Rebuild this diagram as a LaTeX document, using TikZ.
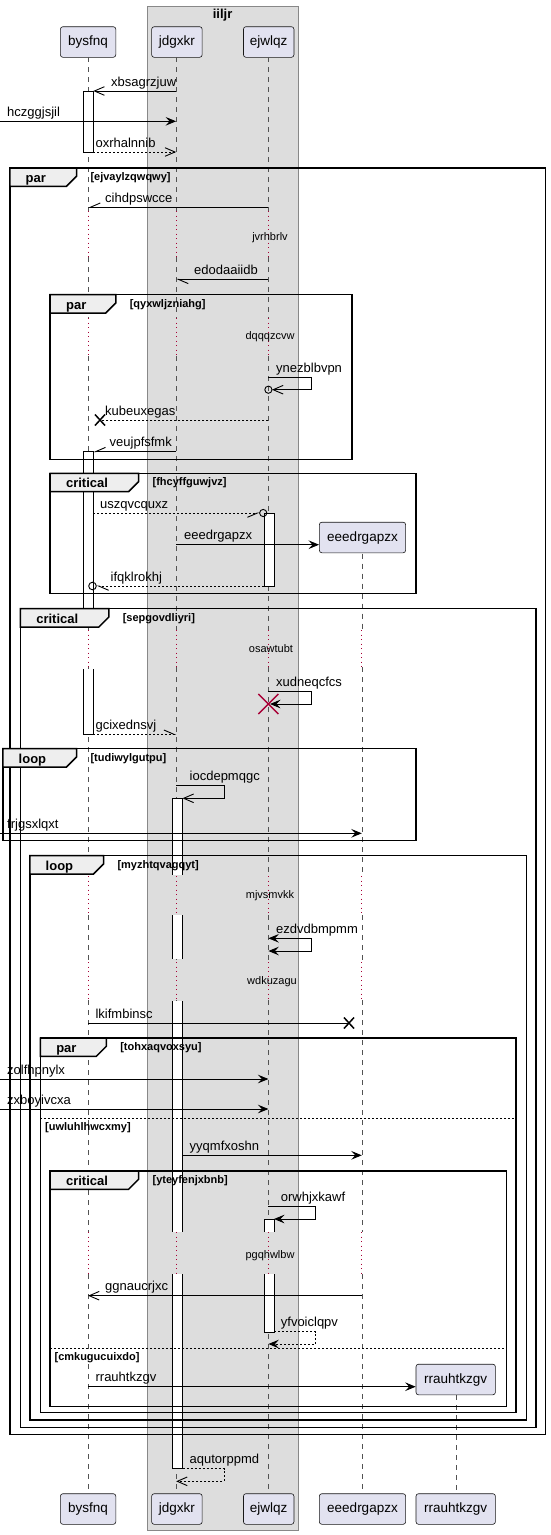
\documentclass[tikz,border=0pt]{standalone}
\usepackage{fontspec}
\setmainfont{Liberation Sans}
\usetikzlibrary{arrows.meta}
\definecolor{partfill}{HTML}{E2E2F0}
\definecolor{partline}{HTML}{181818}
\definecolor{grpfill}{HTML}{DDDDDD}
\definecolor{grpline}{HTML}{888888}
\definecolor{tabfill}{HTML}{EEEEEE}
\definecolor{delayred}{HTML}{A80036}

% combined fragment: x1,y1,x2,y2,tab width,kind,guard,name
\newcommand\SeqFrame[8]{%
  \draw[frm] (#1,#2) rectangle (#3,#4);
  \draw[tabshape] (#1,#2) -- ({#1+#5},#2) -- ({#1+#5},{#2+8.3}) -- ({#1+#5-10},{#2+18.3}) -- (#1,{#2+18.3}) -- cycle;
  \node[tablab] (#8-kind) at ({#1+15.7},{#2+14.3}) {#6};
  \node[cond] (#8-guard) at ({#1+#5+13.8},{#2+12.6}) {#7};
}

\begin{document}
\begin{tikzpicture}[x=1pt,y=-1pt,
  part/.style={draw=partline,fill=partfill,rounded corners=2.5pt,line width=0.6pt,minimum height=30.6pt,inner sep=0pt,font=\fontsize{13.5}{16}\selectfont},
  life/.style={draw=partline!75,line width=0.5pt,dash pattern=on 5pt off 5pt},
  delay/.style={draw=delayred,line width=0.8pt,dash pattern=on 1pt off 3.5pt},
  actbar/.style={draw=black,line width=0.8pt},
  msg/.style={draw=black,line width=0.9pt},
  rmsg/.style={msg,dash pattern=on 2pt off 2pt},
  frm/.style={draw=black,line width=1.5pt},
  tabshape/.style={frm,fill=tabfill},
  lab/.style={anchor=base west,inner sep=0pt,font=\fontsize{13}{15}\selectfont},
  tablab/.style={anchor=base west,inner sep=0pt,font=\bfseries\fontsize{13}{15}\selectfont},
  cond/.style={anchor=base west,inner sep=0pt,font=\bfseries\fontsize{11}{13}\selectfont},
  dlab/.style={anchor=base,inner sep=0pt,font=\fontsize{11}{13}\selectfont},
  xmark/.style={draw=black,line width=1.5pt},
  fh/.tip={Stealth[length=10.5pt,width=8.6pt,inset=4pt]},
  oh/.tip={Straight Barb[length=10pt,width=8.6pt]},
  hl/.tip={Straight Barb[length=10pt,width=8.6pt,left]},
  hr/.tip={Straight Barb[length=10pt,width=8.6pt,right]},
]
\useasboundingbox (0,0) rectangle (551,1535);
\fill[white] (0,0) rectangle (551,1535);

% box iiljr
\draw[draw=grpline,fill=grpfill,line width=1pt] (147,6) rectangle (298.2,1530);
\node[anchor=base,inner sep=0pt,font=\bfseries\fontsize{13}{15}\selectfont] (iiljr) at (222.6,18.6) {iiljr};

% lifeline positions
\coordinate (x0) at (0,0);
\coordinate (xb) at (88.1,0);
\coordinate (xbr) at (93.3,0);
\coordinate (xj) at (176.1,0);
\coordinate (xjr) at (182.5,0);
\coordinate (xe) at (268.4,0);
\coordinate (xel) at (263.9,0);
\coordinate (xer) at (274,0);
\coordinate (xg) at (361.8,0);
\coordinate (xr) at (455.8,0);

% participants
\node[part,minimum width=55.4pt] (bysfnq) at (88.1,42) {bysfnq};
\node[part,minimum width=50.5pt] (jdgxkr) at (176.9,42) {jdgxkr};
\node[part,minimum width=50.5pt] (ejwlqz) at (268.7,42) {ejwlqz};
\node[part,minimum width=55.4pt] (bysfnqB) at (88.1,1509) {bysfnq};
\node[part,minimum width=50.5pt] (jdgxkrB) at (176.9,1509) {jdgxkr};
\node[part,minimum width=50.5pt] (ejwlqzB) at (268.7,1509) {ejwlqz};
\node[part,minimum width=86.3pt] (eeedrgapzxB) at (362.5,1509) {eeedrgapzx};
\node[part,minimum width=79.4pt] (rrauhtkzgvB) at (455.7,1509) {rrauhtkzgv};

% lifelines, broken by delays
\foreach \a/\b in {57.3/211,257/318,356/630,667/876,915/962,1000/1232,1274/1493} {
  \draw[life] (xb|-0,\a) -- (xb|-0,\b);
  \draw[life] (xj|-0,\a) -- (xj|-0,\b);
  \draw[life] (xe|-0,\a) -- (xe|-0,\b);
}
\foreach \a/\b in {553.7/630,667/876,915/962,1000/1232,1274/1493}
  \draw[life] (xg|-0,\a) -- (xg|-0,\b);
\draw[life] (xr|-0,1395) -- (xr|-0,1493);
\foreach \a/\b in {211/257,318/356,630/667,876/915,962/1000,1232/1274} {
  \draw[delay] (xb|-0,\a) -- (xb|-0,\b);
  \draw[delay] (xj|-0,\a) -- (xj|-0,\b);
  \draw[delay] (xe|-0,\a) -- (xe|-0,\b);
}
\foreach \a/\b in {630/667,876/915,962/1000,1232/1274}
  \draw[delay] (xg|-0,\a) -- (xg|-0,\b);

% delay texts
\node[dlab] (d1) at (270,240.6) {jvrhbrlv};
\node[dlab] (d2) at (270,339.6) {dqqqzcvw};
\node[dlab] (d3) at (271,652.6) {osawtubt};
\node[dlab] (d4) at (270,898.4) {mjvsmvkk};
\node[dlab] (d5) at (272,984.6) {wdkuzagu};
\node[dlab] (d6) at (270,1258) {pgqhwlbw};

% activation bars
\filldraw[actbar,fill=white] (83.2,91) rectangle (93.3,152);
\filldraw[actbar,fill=white] (83.2,451.7) rectangle (93.3,616);
\fill[white] (83.2,669) rectangle (93.3,734.3);
\draw[actbar] (83.2,669) -- (83.2,734.3) -- (93.3,734.3) -- (93.3,669);
\filldraw[actbar,fill=white] (263.9,513) rectangle (274,586);
\fill[white] (263.9,1219) rectangle (274,1232);
\draw[actbar] (263.9,1232) -- (263.9,1219) -- (274,1219) -- (274,1232);
\fill[white] (263.9,1274.3) rectangle (274,1332.3);
\draw[actbar] (263.9,1274.3) -- (263.9,1332.3) -- (274,1332.3) -- (274,1274.3);
\fill[white] (172,798.3) rectangle (182.5,874.7);
\draw[actbar] (172,874.7) -- (172,798.3) -- (182.5,798.3) -- (182.5,874.7);
\fill[white] (172,915.3) rectangle (182.5,959.3);
\draw[actbar] (172,915.3) -- (172,959.3) (182.5,915.3) -- (182.5,959.3);
\fill[white] (172,1001) rectangle (182.5,1232);
\draw[actbar] (172,1001) -- (172,1232) (182.5,1001) -- (182.5,1232);
\fill[white] (172,1274.3) rectangle (182.5,1468.7);
\draw[actbar] (172,1274.3) -- (172,1468.7) -- (182.5,1468.7) -- (182.5,1274.3);

% created participants
\node[part,minimum width=86.3pt] (eeedrgapzx) at (362.5,537.5) {eeedrgapzx};
\node[part,minimum width=79.4pt] (rrauhtkzgv) at (455.7,1379.5) {rrauhtkzgv};

% messages
\draw[msg,-{oh}] (xj|-0,91) -- (xbr|-0,91);
\node[lab] (m1) at (111,86) {xbsagrzjuw};
\draw[msg,-{fh}] (x0|-0,121.3) -- (xj|-0,121.3);
\node[lab] (m2) at (7,116.3) {hczggjsjil};
\draw[rmsg,-{oh}] (xbr|-0,152) -- (xj|-0,152);
\node[lab] (m3) at (95.4,147) {oxrhalnnib};
\draw[msg,-{hr}] (xe|-0,207.3) -- (xb|-0,207.3);
\node[lab] (m4) at (105,202.3) {cihdpswcce};
\draw[msg,-{hl}] (xe|-0,279.3) -- (xj|-0,279.3);
\node[lab] (m5) at (194,274.3) {edodaaiidb};
\draw[msg,-{oh}] (xe|-0,377.3) -- (311,377.3) -- (311,389.7) -- (272,389.7);
\draw[line width=0.9pt] (268.4,389.7) circle (3.6);
\node[lab] (m6) at (276,372.3) {ynezblbvpn};
\draw[rmsg] (xe|-0,420) -- (100,420);
\draw[xmark] (95,414.5) -- (105,425.5) (95,425.5) -- (105,414.5);
\node[lab] (m7) at (105,415) {kubeuxegas};
\draw[msg,-{hr}] (xj|-0,451.7) -- (xbr|-0,451.7);
\node[lab] (m8) at (109.5,446.7) {veujpfsfmk};
\draw[rmsg,-{hr}] (xbr|-0,513) -- (259.6,513);
\draw[line width=0.9pt] (263.2,513) circle (3.6);
\node[lab] (m9) at (100,508) {uszqvcquxz};
\draw[msg,-{fh}] (xj|-0,544.7) -- (eeedrgapzx.west|-0,544.7);
\node[lab] (m10) at (184,539.7) {eeedrgapzx};
\draw[rmsg,-{hl}] (xel|-0,586) -- (96.5,586);
\draw[line width=0.9pt] (92.5,586) circle (3.8);
\node[lab] (m11) at (110.5,581) {ifqklrokhj};
\draw[msg,-{fh}] (xe|-0,691) -- (311,691) -- (311,704) -- (270,704);
\draw[draw=delayred,line width=1.5pt] (258.4,694) -- (278.4,714) (258.4,714) -- (278.4,694);
\node[lab] (m12) at (276,686) {xudneqcfcs};
\draw[rmsg,-{hl}] (xbr|-0,734.3) -- (xj|-0,734.3);
\node[lab] (m13) at (95.4,729.3) {gcixednsvj};
\draw[msg,-{oh}] (xj|-0,785.3) -- (224,785.3) -- (224,798.3) -- (xjr|-0,798.3);
\node[lab] (m14) at (189.5,780.3) {iocdepmqgc};
\draw[msg,-{fh}] (x0|-0,833.3) -- (xg|-0,833.3);
\node[lab] (m15) at (7,828.3) {frjgsxlqxt};
\draw[msg,{fh}-{fh}] (xe|-0,938.3) -- (311,938.3) -- (311,951) -- (xe|-0,951);
\node[lab] (m16) at (276,933.3) {ezdvdbmpmm};
\draw[msg] (xb|-0,1023) -- (349,1023);
\draw[xmark] (344,1017.5) -- (354,1028.5) (344,1028.5) -- (354,1017.5);
\node[lab] (m17) at (95.4,1018) {lkifmbinsc};
\draw[msg,-{fh}] (x0|-0,1079) -- (xe|-0,1079);
\node[lab] (m18) at (7,1074) {zolfhpnylx};
\draw[msg,-{fh}] (x0|-0,1109) -- (xe|-0,1109);
\node[lab] (m19) at (7,1104) {zxboyivcxa};
\draw[msg,-{fh}] (xjr|-0,1155.3) -- (xg|-0,1155.3);
\node[lab] (m20) at (189.5,1150.3) {yyqmfxoshn};
\draw[msg,-{fh}] (xe|-0,1206.3) -- (315.8,1206.3) -- (315.8,1219) -- (xer|-0,1219);
\node[lab] (m21) at (280.7,1201.3) {orwhjxkawf};
\draw[msg,-{oh}] (xg|-0,1295.7) -- (xb|-0,1295.7);
\node[lab] (m22) at (105,1290.7) {ggnaucrjxc};
\draw[rmsg,-{fh}] (xer|-0,1331.7) -- (315.8,1331.7) -- (315.8,1344) -- (xe|-0,1344);
\node[lab] (m23) at (280.7,1326.7) {yfvoiclqpv};
\draw[msg,-{fh}] (xb|-0,1386.7) -- (rrauhtkzgv.west|-0,1386.7);
\node[lab] (m24) at (95.4,1381.7) {rrauhtkzgv};
\draw[rmsg,-{oh}] (xjr|-0,1468.7) -- (224,1468.7) -- (224,1481.3) -- (xj|-0,1481.3);
\node[lab] (m25) at (189.5,1463.7) {aqutorppmd};

% combined fragments
\SeqFrame{9.8}{168}{545.6}{1434.7}{66.7}{par}{[ejvaylzqwqwy]}{frA}
\SeqFrame{50.2}{294.7}{352}{459.3}{65.6}{par}{[qyxwljzniahg]}{frB}
\SeqFrame{50.2}{473.3}{416}{593.7}{88.4}{critical}{[fhcyffguwjvz]}{frC}
\SeqFrame{20.4}{608.7}{536.1}{1427.3}{88.4}{critical}{[sepgovdliyri]}{frD}
\SeqFrame{2.8}{748.7}{416}{840.7}{73.7}{loop}{[tudiwylgutpu]}{frE}
\SeqFrame{29.8}{855.7}{526.3}{1420}{73.7}{loop}{[myzhtqvagqyt]}{frF}
\SeqFrame{40.4}{1038}{515.8}{1412.7}{65.9}{par}{[tohxaqvoxsyu]}{frG}
\SeqFrame{50.2}{1171}{506.3}{1406.7}{88.4}{critical}{[yteyfenjxbnb]}{frH}

% else separators
\draw[line width=1pt,dash pattern=on 2pt off 2pt] (40.4,1118.3) -- (515.8,1118.3);
\node[cond] (el1) at (45,1130) {[uwluhlhwcxmy]};
\draw[line width=1pt,dash pattern=on 2pt off 2pt] (50.2,1348.3) -- (506.3,1348.3);
\node[cond] (el2) at (54.4,1360) {[cmkugucuixdo]};
\end{tikzpicture}
\end{document}
